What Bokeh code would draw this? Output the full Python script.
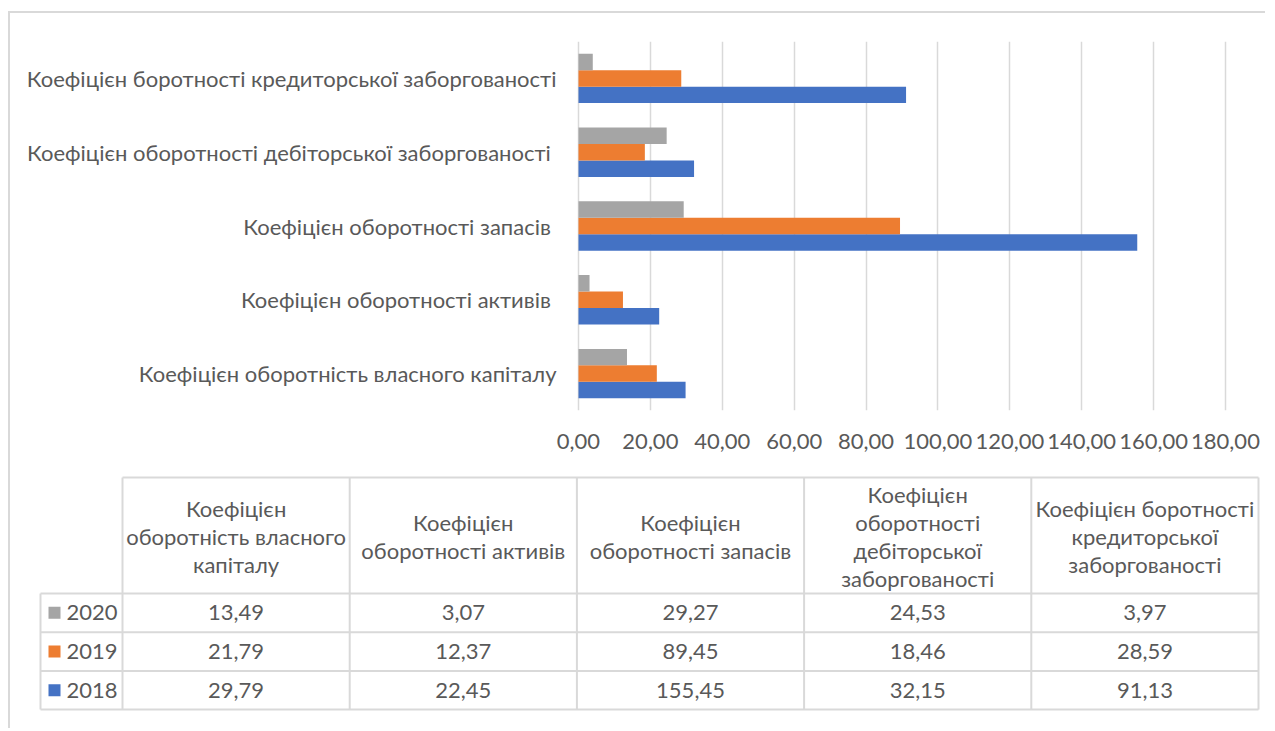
from bokeh.plotting import figure
from bokeh.models import (ColumnDataSource, FactorRange, Range1d, FixedTicker,
                          CustomJSTickFormatter)
from bokeh.transform import dodge
from bokeh.layouts import column
from bokeh.embed import file_html
from bokeh.resources import INLINE
from bokeh.core.properties import value

# ---------------- data ----------------
categories = [
    "Коефіцієн оборотність власного капіталу",
    "Коефіцієн  оборотності активів",
    "Коефіцієн  оборотності запасів",
    "Коефіцієн  оборотності дебіторської заборгованості",
    "Коефіцієн боротності кредиторської заборгованості",
]
header_labels = [
    "Коефіцієн\nоборотність власного\nкапіталу",
    "Коефіцієн\nоборотності активів",
    "Коефіцієн\nоборотності запасів",
    "Коефіцієн\nоборотності\nдебіторської\nзаборгованості",
    "Коефіцієн боротності\nкредиторської\nзаборгованості",
]
years = ["2020", "2019", "2018"]
v2018 = [29.79, 22.45, 155.45, 32.15, 91.13]
v2019 = [21.79, 12.37, 89.45, 18.46, 28.59]
v2020 = [13.49, 3.07, 29.27, 24.53, 3.97]
x_ticks = [0, 20, 40, 60, 80, 100, 120, 140, 160, 180]

# ---------------- styles ----------------
FONT = "Lato"
TXT = "#595959"
GRID = "#d9d9d9"
COL = {"2018": "#4472C4", "2019": "#ED7D31", "2020": "#A5A5A5"}
FS = "22px"
W = 1255

# horizontal placement of the value axis inside the full-width frame (pixels)
AX0_PX, AXMAX_PX, XMAX = 568, 1215, 180
k = (AXMAX_PX - AX0_PX) / XMAX
x_start = -AX0_PX / k
x_end = XMAX + (W - AXMAX_PX) / k

src = ColumnDataSource(dict(cat=categories, v2018=v2018, v2019=v2019, v2020=v2020))

# ---------------- bar chart ----------------
p = figure(width=W, height=455, y_range=FactorRange(*categories),
           x_range=Range1d(x_start, x_end), y_axis_location=None,
           output_backend="svg", toolbar_location=None,
           min_border_left=0, min_border_right=0, min_border_top=28,
           min_border_bottom=58)
p.outline_line_color = None
bh = 0.223
p.hbar(y=dodge("cat", -bh, range=p.y_range), left=0, right="v2018", height=bh,
       source=src, fill_color=COL["2018"], line_color=None)
p.hbar(y=dodge("cat", 0, range=p.y_range), left=0, right="v2019", height=bh,
       source=src, fill_color=COL["2019"], line_color=None)
p.hbar(y=dodge("cat", bh, range=p.y_range), left=0, right="v2020", height=bh,
       source=src, fill_color=COL["2020"], line_color=None)

# category labels (left of the value axis)
p.text(x=0, y="cat", text="cat", source=src, x_offset=-22,
       text_font=value(FONT), text_font_size=FS, text_color=TXT,
       text_align="right", text_baseline="middle")

p.ygrid.visible = False
p.xgrid.grid_line_color = GRID
p.xgrid.grid_line_width = 1.5
p.xgrid.ticker = FixedTicker(ticks=x_ticks)
p.xaxis.ticker = FixedTicker(ticks=x_ticks)
p.xaxis.formatter = CustomJSTickFormatter(code="return tick.toFixed(2).replace('.', ',');")
p.xaxis.axis_line_color = None
p.xaxis.major_tick_line_color = None
p.xaxis.minor_tick_line_color = None
p.xaxis.major_label_standoff = 17
p.xaxis.major_label_text_font = FONT
p.xaxis.major_label_text_font_size = FS
p.xaxis.major_label_text_color = TXT

# ---------------- data table ----------------
H = 260
t = figure(width=W, height=H, x_range=Range1d(0, W), y_range=Range1d(H, 0),
           x_axis_location=None, y_axis_location=None,
           output_backend="svg", toolbar_location=None, min_border=0,
           min_border_left=0, min_border_right=0, min_border_top=0,
           min_border_bottom=0)
t.grid.visible = False
t.outline_line_color = None

leg_left, col_left, col_w = 30, 112, 227.2
top, head_bot, row_h = 9, 125, 38.7
ncol = len(categories)
right = col_left + ncol * col_w
row_edges = [head_bot + i * row_h for i in range(len(years) + 1)]

x0, y0, x1, y1 = [], [], [], []
x0.append(col_left); y0.append(top); x1.append(right); y1.append(top)
for yy in row_edges:
    x0.append(leg_left); y0.append(yy); x1.append(right); y1.append(yy)
x0.append(leg_left); y0.append(head_bot); x1.append(leg_left); y1.append(row_edges[-1])
for i in range(ncol + 1):
    xx = col_left + i * col_w
    x0.append(xx); y0.append(top); x1.append(xx); y1.append(row_edges[-1])
t.segment(x0=x0, y0=y0, x1=x1, y1=y1, line_color=GRID, line_width=2)

centers_x = [col_left + (i + 0.5) * col_w for i in range(ncol)]
t.text(x=centers_x, y=[68] * ncol, text=header_labels,
       text_font=value(FONT), text_font_size=FS, text_color=TXT,
       text_align="center", text_baseline="middle", text_line_height=1.04)

series = {"2018": v2018, "2019": v2019, "2020": v2020}
for r, yr in enumerate(years):
    cy = (row_edges[r] + row_edges[r + 1]) / 2
    vals = series[yr]
    t.text(x=centers_x, y=[cy] * ncol,
           text=[f"{v:.2f}".replace(".", ",") for v in vals],
           text_font=value(FONT), text_font_size=FS, text_color=TXT,
           text_align="center", text_baseline="middle")
    t.rect(x=[44], y=[cy], width=12, height=12, width_units="screen",
           height_units="screen", fill_color=COL[yr], line_color=None)
    t.text(x=[56], y=[cy], text=[yr], text_font=value(FONT), text_font_size=FS,
           text_color=TXT, text_align="left", text_baseline="middle")

layout = column(p, t, styles={"border-left": "2px solid #d9d9d9",
                              "border-top": "2px solid #d9d9d9",
                              "margin-top": "11px", "margin-left": "8px"})

open("out.html", "w").write(file_html(layout, INLINE))
